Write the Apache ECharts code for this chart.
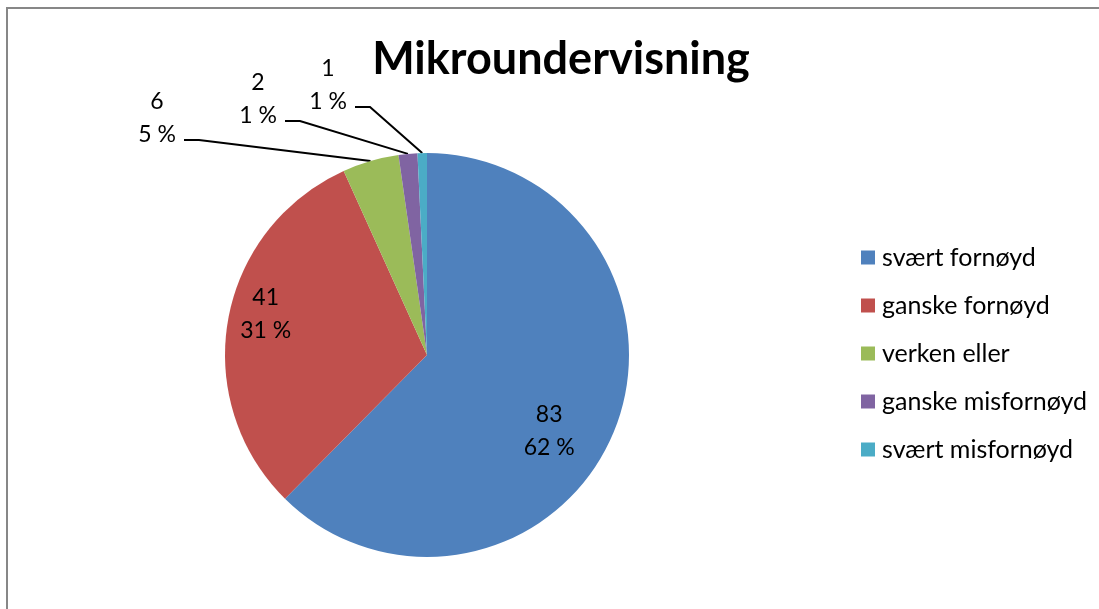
<!DOCTYPE html>
<html>
<head>
<meta charset="utf-8">
<script src="https://cdn.jsdelivr.net/npm/echarts@6/dist/echarts.min.js"></script>
<style>
  html, body { margin: 0; padding: 0; background: #fff; }
  #chart { width: 1099px; height: 609px; }
</style>
</head>
<body>
<div id="chart"></div>
<script>
// data ==========================================
const categories = ['svært fornøyd', 'ganske fornøyd', 'verken eller', 'ganske misfornøyd', 'svært misfornøyd'];
const counts = [83, 41, 6, 2, 1];
const pctLabels = ['62 %', '31 %', '5 %', '1 %', '1 %'];
const colors = ['#4F81BD', '#C0504D', '#9BBB59', '#8064A2', '#4BACC6'];

// label placement (style only)
const insideOffsets = [[26, 37], [-59, -23]];
const outerLabelPos = { 2: [157, 140], 3: [258, 121], 4: [328, 107] };

const chart = echarts.init(document.getElementById('chart'));

const seriesData = categories.map((name, i) => {
    const item = { name: name, value: counts[i], itemStyle: { color: colors[i] } };
    if (i < 2) {
        item.label = { position: 'inside', offset: insideOffsets[i] };
        item.labelLine = { show: false };
    } else {
        item.label = { position: 'outside' };
        item.labelLine = { show: true, length: 20, length2: 15 };
    }
    return item;
});

const option = {
    animation: false,
    backgroundColor: '#fff',
    textStyle: { fontFamily: 'Lato, "Noto Sans", sans-serif' },
    title: {
        text: 'Mikroundervisning',
        left: 556,
        top: 32,
        textAlign: 'center',
        textStyle: { fontSize: 45, fontWeight: 'bold', color: '#000', fontFamily: 'Lato' }
    },
    legend: {
        orient: 'vertical',
        left: 861,
        top: 245,
        padding: 0,
        itemWidth: 14,
        itemHeight: 14,
        itemGap: 23,
        icon: 'rect',
        data: categories,
        textStyle: { fontSize: 25, color: '#000', fontFamily: 'Lato', padding: [0, 0, 0, 2] }
    },
    graphic: [{
        type: 'polyline',
        shape: { points: [[7, 620], [7, 8], [1110, 8]] },
        style: { stroke: '#878787', lineWidth: 2, fill: null }
    }],
    series: [{
        type: 'pie',
        center: [427, 355],
        radius: 202,
        startAngle: 90,
        clockwise: true,
        itemStyle: { borderWidth: 0 },
        label: {
            fontSize: 23,
            color: '#000',
            lineHeight: 33,
            fontFamily: 'Lato',
            // outer labels get an empty spacer line so the leader meets them at the % line
            formatter: p => {
                const txt = p.value + '\n' + pctLabels[p.dataIndex];
                return p.dataIndex < 2 ? txt : txt + '\n{s|}';
            },
            rich: { s: { lineHeight: 44, fontSize: 1, width: 54 } }
        },
        labelLine: { lineStyle: { color: '#000', width: 2 } },
        labelLayout: function (params) {
            const pos = outerLabelPos[params.dataIndex];
            if (!pos) return {};
            return { x: pos[0], y: pos[1], align: 'center', verticalAlign: 'middle' };
        },
        data: seriesData
    }]
};

chart.setOption(option);
</script>
</body>
</html>
